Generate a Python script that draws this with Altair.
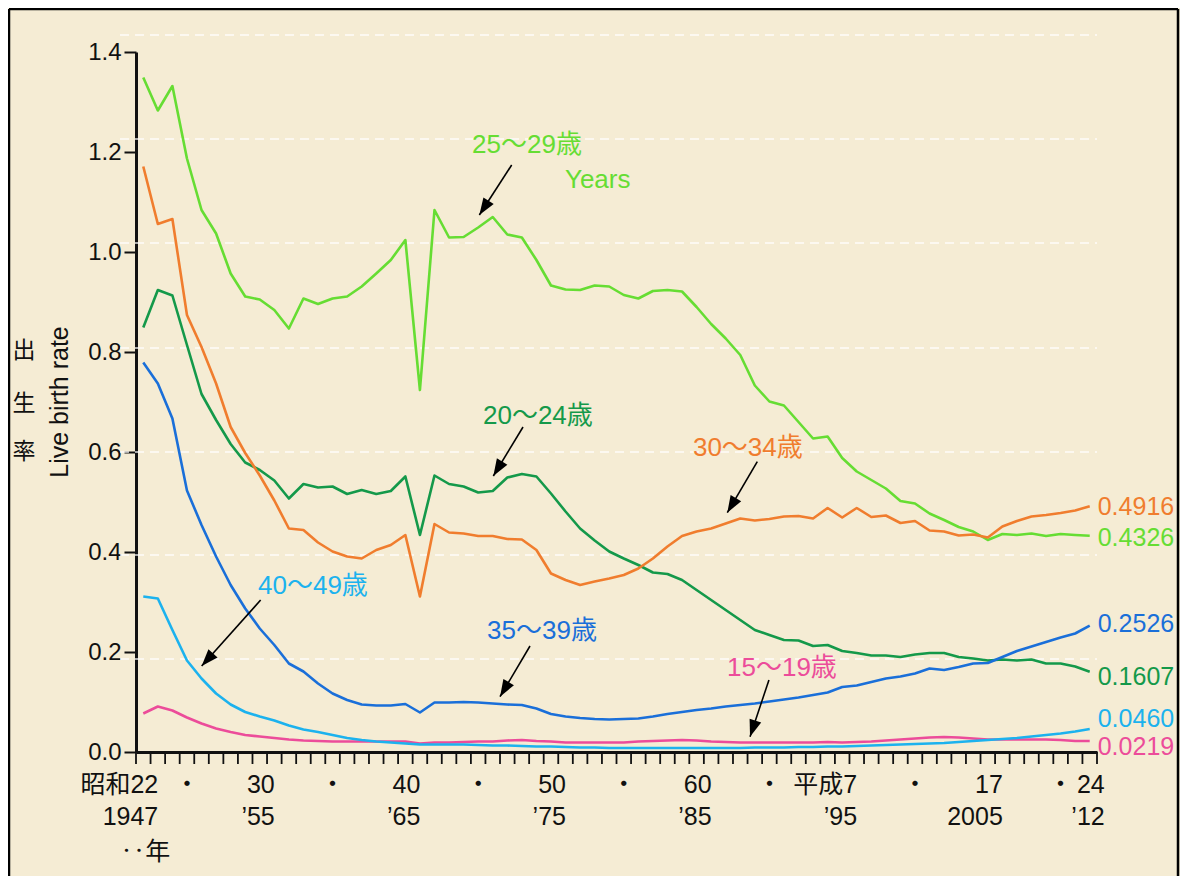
import math
import altair as alt
import pandas as pd

# ---------------- data ----------------
years = list(range(1947, 2013))

age_15_19 = [0.077, 0.091, 0.083, 0.069, 0.057, 0.047, 0.040, 0.034, 0.031, 0.028,
             0.025, 0.023, 0.022, 0.021, 0.021, 0.021, 0.021, 0.021, 0.021, 0.017,
             0.019, 0.019, 0.020, 0.021, 0.021, 0.023, 0.024, 0.022, 0.021, 0.019,
             0.019, 0.019, 0.019, 0.019, 0.021, 0.022, 0.023, 0.024, 0.023, 0.021,
             0.020, 0.019, 0.019, 0.019, 0.019, 0.019, 0.019, 0.020, 0.019, 0.020,
             0.021, 0.023, 0.025, 0.027, 0.029, 0.030, 0.029, 0.027, 0.025, 0.025,
             0.025, 0.025, 0.025, 0.024, 0.022, 0.0219]

age_20_24 = [0.849, 0.924, 0.913, 0.814, 0.716, 0.664, 0.616, 0.579, 0.564, 0.543,
             0.507, 0.536, 0.529, 0.531, 0.516, 0.524, 0.516, 0.522, 0.551, 0.434,
             0.553, 0.536, 0.531, 0.519, 0.522, 0.549, 0.556, 0.551, 0.517, 0.481,
             0.447, 0.423, 0.401, 0.387, 0.374, 0.359, 0.356, 0.344, 0.324, 0.304,
             0.284, 0.264, 0.244, 0.234, 0.224, 0.223, 0.212, 0.214, 0.202, 0.198,
             0.193, 0.193, 0.190, 0.195, 0.198, 0.198, 0.190, 0.187, 0.183, 0.185,
             0.183, 0.185, 0.177, 0.177, 0.171, 0.1607]

age_25_29 = [1.349, 1.283, 1.332, 1.187, 1.084, 1.037, 0.957, 0.911, 0.905, 0.884,
             0.847, 0.907, 0.896, 0.907, 0.911, 0.931, 0.957, 0.984, 1.024, 0.724,
             1.084, 1.029, 1.030, 1.049, 1.070, 1.035, 1.029, 0.984, 0.933, 0.925,
             0.924, 0.933, 0.931, 0.914, 0.907, 0.922, 0.924, 0.921, 0.890, 0.856,
             0.827, 0.794, 0.733, 0.701, 0.693, 0.660, 0.627, 0.631, 0.588, 0.561,
             0.544, 0.527, 0.502, 0.497, 0.477, 0.464, 0.450, 0.441, 0.424, 0.436,
             0.434, 0.437, 0.432, 0.436, 0.434, 0.4326]

age_30_34 = [1.171, 1.056, 1.066, 0.874, 0.810, 0.737, 0.650, 0.598, 0.553, 0.503,
             0.447, 0.444, 0.419, 0.401, 0.391, 0.387, 0.404, 0.414, 0.434, 0.311,
             0.456, 0.439, 0.437, 0.432, 0.432, 0.426, 0.425, 0.404, 0.357, 0.344,
             0.334, 0.341, 0.347, 0.354, 0.367, 0.387, 0.411, 0.432, 0.441, 0.447,
             0.457, 0.467, 0.463, 0.466, 0.471, 0.472, 0.467, 0.488, 0.469, 0.488,
             0.470, 0.473, 0.458, 0.462, 0.443, 0.441, 0.433, 0.435, 0.429, 0.451,
             0.462, 0.471, 0.474, 0.478, 0.483, 0.4916]

age_35_39 = [0.779, 0.737, 0.667, 0.523, 0.454, 0.391, 0.334, 0.287, 0.247, 0.214,
             0.177, 0.161, 0.137, 0.117, 0.104, 0.095, 0.093, 0.093, 0.096, 0.079,
             0.099, 0.099, 0.100, 0.099, 0.097, 0.095, 0.094, 0.087, 0.076, 0.071,
             0.068, 0.066, 0.065, 0.066, 0.067, 0.071, 0.076, 0.080, 0.084, 0.087,
             0.091, 0.094, 0.097, 0.101, 0.105, 0.109, 0.114, 0.119, 0.130, 0.133,
             0.140, 0.147, 0.151, 0.157, 0.167, 0.164, 0.170, 0.177, 0.178, 0.190,
             0.202, 0.211, 0.220, 0.229, 0.237, 0.2526]

age_40_49 = [0.311, 0.307, 0.244, 0.183, 0.147, 0.117, 0.095, 0.080, 0.071, 0.063,
             0.053, 0.045, 0.040, 0.034, 0.028, 0.024, 0.021, 0.019, 0.017, 0.015,
             0.015, 0.015, 0.015, 0.014, 0.013, 0.013, 0.012, 0.011, 0.011, 0.010,
             0.009, 0.009, 0.008, 0.008, 0.008, 0.008, 0.008, 0.008, 0.008, 0.008,
             0.008, 0.008, 0.009, 0.009, 0.009, 0.010, 0.010, 0.011, 0.011, 0.012,
             0.013, 0.014, 0.015, 0.016, 0.017, 0.018, 0.020, 0.022, 0.024, 0.026,
             0.028, 0.031, 0.034, 0.037, 0.041, 0.046]

series_names = ["15～19歳", "20～24歳", "25～29歳", "30～34歳", "35～39歳", "40～49歳"]
series_values = [age_15_19, age_20_24, age_25_29, age_30_34, age_35_39, age_40_49]
series_colors = ["#ec4c9a", "#14994a", "#66dd33", "#f07d2e", "#1a6fd9", "#1cb2ee"]

# end-of-line value labels
end_labels = ["0.0219", "0.1607", "0.4326", "0.4916", "0.2526", "0.0460"]
end_label_y = [0.010, 0.150, 0.429, 0.490, 0.256, 0.067]

# annotation labels (data coordinates: year, rate) and arrows (start -> tip)
ann_text = ["15～19歳", "20～24歳", "25～29歳", "Years", "30～34歳", "35～39歳", "40～49歳"]
ann_color = ["#ec4c9a", "#14994a", "#66dd33", "#66dd33", "#f07d2e", "#1a6fd9", "#1cb2ee"]
ann_year = [1987.09, 1970.33, 1969.58, 1975.96, 1984.75, 1970.61, 1954.88]
ann_rate = [0.152, 0.656, 1.198, 1.128, 0.592, 0.226, 0.316]

arrow_x0 = [1989.97, 1973.08, 1972.30, 1989.17, 1973.56, 1955.06]
arrow_y0 = [0.144, 0.650, 1.174, 0.5806, 0.212, 0.304]
arrow_x1 = [1988.67, 1971.04, 1970.08, 1987.11, 1971.50, 1951.01]
arrow_y1 = [0.0306, 0.552, 1.074, 0.4786, 0.1106, 0.172]

# x-axis labels (two rows, Japanese era + western year)
lab1_years = [1947, 1955, 1965, 1975, 1985, 1995, 2005, 2012]
lab1_text = ["昭和22", "30", "40", "50", "60", "平成7", "17", "24"]
lab2_text = ["1947", "’55", "’65", "’75", "’85", "’95", "2005", "’12"]
dot_years = [1950, 1960, 1970, 1980, 1990, 2000, 2010]

# faint dashed background guide lines
guide_vals = [0.186, 0.394, 0.600, 0.808, 1.018, 1.226, 1.434]

y_ticks = [0.0, 0.2, 0.4, 0.6, 0.8, 1.0, 1.2, 1.4]

# ---------------- chart ----------------
W, H = 961, 700
FONT = "Liberation Sans, Noto Sans CJK JP, sans-serif"
INK = "#111111"
BG = "#f5ecd4"

x_dom = [1946.5, 2012.5]
y_dom = [0, 1.4]
tick_vals = [x_dom[0] + i for i in range(67)]


def xs():
    return alt.Scale(domain=x_dom, nice=False, zero=False)


def ys():
    return alt.Scale(domain=y_dom, nice=False, zero=False)


def xa():
    return alt.Axis(values=tick_vals, labels=False, ticks=False,
                    domainColor=INK, domainWidth=3, grid=False, title=None)


def ya():
    return alt.Axis(values=y_ticks, format=".1f", labelFontSize=24, labelFont=FONT,
                    labelColor=INK, tickSize=12, tickWidth=2, tickColor=INK,
                    domainColor=INK, domainWidth=3, labelPadding=3, grid=False,
                    title=None)


def X(field):
    return alt.X(field, scale=xs(), axis=xa())


def Y(field):
    return alt.Y(field, scale=ys(), axis=ya())


rows = []
for name, vals in zip(series_names, series_values):
    assert len(vals) == len(years)
    for yr, v in zip(years, vals):
        rows.append({"year": yr, "rate": v, "group": name})
df = pd.DataFrame(rows)

lines = alt.Chart(df).mark_line(strokeWidth=2.6, strokeJoin="round").encode(
    x=X("year:Q"),
    y=Y("rate:Q"),
    color=alt.Color("group:N", scale=alt.Scale(domain=series_names, range=series_colors),
                    legend=None),
)

guides = alt.Chart(pd.DataFrame({"v": guide_vals})).mark_rule(
    color="#ffffff", strokeDash=[9, 6], strokeWidth=1.5, opacity=0.85
).encode(
    y=Y("v:Q"),
    x=alt.value(-16), x2=alt.value(W),
)

# year-boundary tick marks below the x axis
x_ticks = alt.Chart(pd.DataFrame({"t": tick_vals})).mark_rule(
    color=INK, strokeWidth=1.8
).encode(
    x=X("t:Q"), y=alt.value(H), y2=alt.value(H + 12),
)

# arrows
px_per_year = W / (x_dom[1] - x_dom[0])
px_per_unit = H / (y_dom[1] - y_dom[0])
angles = []
for a, b, c, d in zip(arrow_x0, arrow_y0, arrow_x1, arrow_y1):
    dx = (c - a) * px_per_year
    dy = -(d - b) * px_per_unit
    angles.append(math.degrees(math.atan2(dx, -dy)) % 360)
arrow_df = pd.DataFrame({"x0": arrow_x0, "y0": arrow_y0, "x1": arrow_x1,
                         "y1": arrow_y1, "ang": angles})

arrow_lines = alt.Chart(arrow_df).mark_rule(color="#000000", strokeWidth=1.6).encode(
    x=X("x0:Q"), y=Y("y0:Q"), x2="x1:Q", y2="y1:Q",
)
arrow_heads = alt.Chart(arrow_df).mark_point(
    shape="M0,0L-0.36,1L0.36,1Z", filled=True, size=1156, color="#000000",
    opacity=1, strokeWidth=0
).encode(
    x=X("x1:Q"), y=Y("y1:Q"),
    angle=alt.Angle("ang:Q", scale=None),
)

ann_df = pd.DataFrame({"t": ann_text, "c": ann_color, "x": ann_year, "y": ann_rate})
annotations = alt.Chart(ann_df).mark_text(
    align="left", baseline="alphabetic", fontSize=26, font=FONT
).encode(
    x=X("x:Q"), y=Y("y:Q"),
    text="t:N",
    color=alt.Color("c:N", scale=None),
)

end_df = pd.DataFrame({"t": end_labels, "y": end_label_y, "c": series_colors,
                       "x": [years[-1]] * len(end_labels)})
end_text = alt.Chart(end_df).mark_text(
    align="left", baseline="middle", fontSize=25, font=FONT, dx=8
).encode(
    x=X("x:Q"), y=Y("y:Q"),
    text="t:N",
    color=alt.Color("c:N", scale=None),
)

# x-axis text rows
lab_df = pd.DataFrame({"year": lab1_years, "t1": lab1_text, "t2": lab2_text})
row1 = alt.Chart(lab_df).mark_text(
    align="right", baseline="alphabetic", fontSize=25, font=FONT, color=INK, dx=15
).encode(x=X("year:Q"), y=alt.value(741), text="t1:N")
row2 = alt.Chart(lab_df).mark_text(
    align="right", baseline="alphabetic", fontSize=25, font=FONT, color=INK, dx=15
).encode(x=X("year:Q"), y=alt.value(773), text="t2:N")
dots = alt.Chart(pd.DataFrame({"year": dot_years, "t": ["・"] * len(dot_years)})).mark_text(
    align="center", baseline="alphabetic", fontSize=25, font=FONT, color=INK
).encode(x=X("year:Q"), y=alt.value(741), text="t:N")
row3 = alt.Chart(pd.DataFrame({"year": [years[0]], "t": ["‥年"]})).mark_text(
    align="right", baseline="alphabetic", fontSize=25, font=FONT, color=INK, dx=27
).encode(x=X("year:Q"), y=alt.value(808), text="t:N")

# y-axis title (stacked Japanese + rotated English)
yt_df = pd.DataFrame({"t": ["出", "生", "率"], "py": [299, 352, 400]})
ytitle_jp = alt.Chart(yt_df).mark_text(
    align="center", baseline="middle", fontSize=23, font=FONT, color=INK
).encode(x=alt.value(-112), y=alt.Y("py:Q", scale=None, axis=None), text="t:N")
ytitle_en = alt.Chart(pd.DataFrame({"t": ["Live birth rate"]})).mark_text(
    align="center", baseline="alphabetic", fontSize=25, font=FONT, color=INK, angle=270
).encode(x=alt.value(-68), y=alt.value(350), text="t:N")

# outer frame
one = pd.DataFrame({"a": [0]})
frame_left = alt.Chart(one).mark_rule(color="#000000", strokeWidth=2.5).encode(
    x=alt.value(-127), y=alt.value(-43), y2=alt.value(824))
frame_top = alt.Chart(one).mark_rule(color="#000000", strokeWidth=2.5).encode(
    x=alt.value(-127), x2=alt.value(1042), y=alt.value(-43))
frame_right = alt.Chart(one).mark_rule(color="#000000", strokeWidth=2.5).encode(
    x=alt.value(1042), y=alt.value(-43), y2=alt.value(824))

chart = alt.layer(
    guides, lines, x_ticks, arrow_lines, arrow_heads, annotations, end_text,
    row1, dots, row2, row3, ytitle_jp, ytitle_en,
    frame_left, frame_top, frame_right,
).properties(
    width=W, height=H,
    padding={"left": 128, "top": 44, "right": 83, "bottom": 124},
    autosize=alt.AutoSizeParams(type="none"),
    background=BG,
).configure_view(stroke=None)

chart.save("out.html", embed_options={"renderer": "svg", "actions": False})
